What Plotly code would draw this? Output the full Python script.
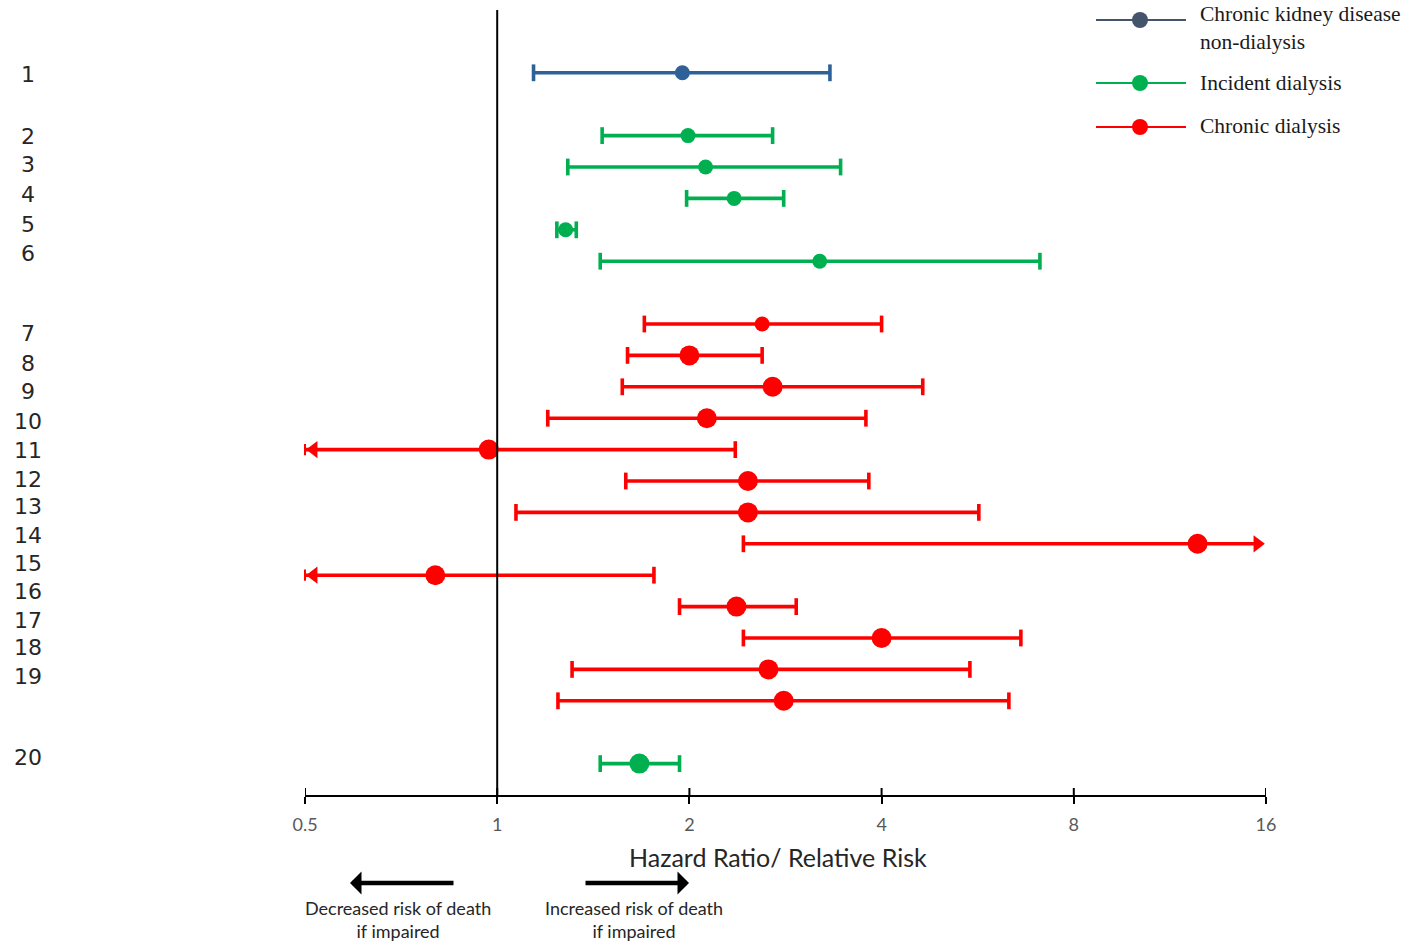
import math
import plotly.graph_objects as go

# ---------------- data ----------------
study_labels = [str(i) for i in range(1, 21)]
groups = ["ckd"] + ["inc"] * 5 + ["chr"] * 13 + ["inc"]
hazard = [1.95, 1.99, 2.12, 2.35, 1.28, 3.20, 2.60, 2.00, 2.70, 2.13,
          0.97, 2.47, 2.47, 12.5, 0.80, 2.37, 4.00, 2.66, 2.81, 1.67]
ci_low = [1.14, 1.46, 1.29, 1.98, 1.24, 1.45, 1.70, 1.60, 1.57, 1.20,
          0.45, 1.59, 1.07, 2.43, 0.45, 1.93, 2.43, 1.31, 1.245, 1.45]
ci_high = [3.32, 2.70, 3.45, 2.81, 1.33, 7.08, 4.00, 2.60, 4.64, 3.78,
           2.36, 3.82, 5.68, 20.0, 1.76, 2.94, 6.61, 5.50, 6.33, 1.93]
tick_values = [0.5, 1, 2, 4, 8, 16]
tick_labels = ["0.5", "1", "2", "4", "8", "16"]
legend_names = {"ckd": "Chronic kidney disease<br>non-dialysis",
                "inc": "Incident dialysis",
                "chr": "Chronic dialysis"}

# ---------------- style ----------------
colors = {"ckd": "#2f6199", "inc": "#00b050", "chr": "#ff0000"}
legend_colors = {"ckd": "#44546a", "inc": "#00b050", "chr": "#ff0000"}
big_marker = [False] * 7 + [True] * 13
gap_before = {2, 7, 20}          # blank row before these studies
label_offsets = [0.06, 0.04, -0.07, -0.11, -0.16, -0.24, 0.31, 0.27, 0.16, 0.11,
                 0.04, -0.04, -0.18, -0.26, -0.36, -0.47, -0.55, -0.69, -0.76, -0.18]

W, H = 1420, 941
L, R, T, B = 305, 1266, 10, 795
XMIN, XMAX = 0.5, 16
ppd = (R - L) / (math.log10(XMAX) - math.log10(XMIN))   # pixels per decade
LW = 3.6
CAP = 12


def px(X):
    return (X - L) / (R - L)


def py(Y):
    return (B - Y) / (B - T)


# row positions
positions = []
gaps = 0
for i, lab in enumerate(study_labels):
    if int(lab) in gap_before:
        gaps += 1
    positions.append(i + gaps)

fig = go.Figure()
ARROW_SIZE = 15
rt = (ARROW_SIZE / 2) * 2 / math.sqrt(3)

for i in range(len(study_labels)):
    c = colors[groups[i]]
    y = positions[i]
    lo_c = max(ci_low[i], XMIN)
    hi_c = min(ci_high[i], XMAX)
    line_hi = hi_c / 10 ** (rt / ppd) if ci_high[i] > XMAX else hi_c
    fig.add_trace(go.Scatter(x=[lo_c, line_hi], y=[y, y], mode="lines",
                             line=dict(color=c, width=LW), cliponaxis=False,
                             hoverinfo="skip"))
    caps = []
    if ci_low[i] >= XMIN:
        caps.append(lo_c)
    if ci_high[i] <= XMAX:
        caps.append(hi_c)
    if caps:
        fig.add_trace(go.Scatter(x=caps, y=[y] * len(caps), mode="markers",
                                 marker=dict(symbol="line-ns", size=CAP,
                                             line=dict(width=LW, color=c)),
                                 cliponaxis=False, hoverinfo="skip"))
    if ci_low[i] < XMIN:
        fig.add_trace(go.Scatter(x=[lo_c * 10 ** (rt / ppd)], y=[y], mode="markers",
                                 marker=dict(symbol="triangle-left", size=ARROW_SIZE,
                                             color=c, line=dict(width=0)),
                                 cliponaxis=False, hoverinfo="skip"))
        fig.add_trace(go.Scatter(x=[lo_c], y=[y], mode="markers",
                                 marker=dict(symbol="line-ns", size=8,
                                             line=dict(width=2, color=c)),
                                 cliponaxis=False, hoverinfo="skip"))
    if ci_high[i] > XMAX:
        fig.add_trace(go.Scatter(x=[hi_c / 10 ** (rt / ppd)], y=[y], mode="markers",
                                 marker=dict(symbol="triangle-right", size=ARROW_SIZE,
                                             color=c, line=dict(width=0)),
                                 cliponaxis=False, hoverinfo="skip"))
    fig.add_trace(go.Scatter(x=[hazard[i]], y=[y], mode="markers",
                             marker=dict(symbol="circle", size=20 if big_marker[i] else 15,
                                         color=c, line=dict(width=0)),
                             cliponaxis=False, name=study_labels[i]))

shapes = []
# reference line at 1
shapes.append(dict(type="line", xref="x", yref="paper", x0=1, x1=1, y0=0, y1=1,
                   line=dict(color="black", width=2), layer="above"))
# upward part of ticks
for tv in tick_values:
    shapes.append(dict(type="line", xref="x", yref="paper", x0=tv, x1=tv,
                       y0=0, y1=py(788), line=dict(color="black", width=2)))

annotations = []
for i, lab in enumerate(study_labels):
    annotations.append(dict(x=px(28), y=positions[i] + label_offsets[i], xref="paper", yref="y",
                            text=lab, showarrow=False, xanchor="center", yanchor="middle",
                            font=dict(family="DejaVu Sans", size=22, color="#262626")))

annotations.append(dict(x=px(778), y=py(857), xref="paper", yref="paper",
                        text="Hazard Ratio/ Relative Risk", showarrow=False,
                        xanchor="center", yanchor="middle",
                        font=dict(family="Lato", size=25, color="#262626")))

# direction arrows
annotations.append(dict(x=px(350), y=py(883), xref="paper", yref="paper", text="",
                        showarrow=True, ax=105, ay=0, arrowhead=1, arrowsize=0.85,
                        arrowwidth=4.5, arrowcolor="black"))
annotations.append(dict(x=px(689), y=py(883), xref="paper", yref="paper", text="",
                        showarrow=True, ax=-105, ay=0, arrowhead=1, arrowsize=0.85,
                        arrowwidth=4.5, arrowcolor="black"))
annotations.append(dict(x=px(398), y=py(919), xref="paper", yref="paper",
                        text="Decreased risk of death<br>if impaired", showarrow=False,
                        xanchor="center", yanchor="middle",
                        font=dict(family="Lato", size=18, color="#262626")))
annotations.append(dict(x=px(634), y=py(919), xref="paper", yref="paper",
                        text="Increased risk of death<br>if impaired", showarrow=False,
                        xanchor="center", yanchor="middle",
                        font=dict(family="Lato", size=18, color="#262626")))

# legend (manual)
legend_rows = [("ckd", 20, 28.5), ("inc", 83, 83), ("chr", 127, 126)]
for key, yl, yt in legend_rows:
    c = legend_colors[key]
    shapes.append(dict(type="line", xref="paper", yref="paper", x0=px(1096), x1=px(1186),
                       y0=py(yl), y1=py(yl), line=dict(color=c, width=2)))
    shapes.append(dict(type="circle", xref="paper", yref="paper",
                       xsizemode="pixel", ysizemode="pixel",
                       xanchor=px(1140), yanchor=py(yl), x0=-8, x1=8, y0=-8, y1=8,
                       fillcolor=c, line=dict(width=0)))
    annotations.append(dict(x=px(1198), y=py(yt), xref="paper", yref="paper",
                            text=legend_names[key], showarrow=False, align="left",
                            xanchor="left", yanchor="middle",
                            font=dict(family="Liberation Serif", size=21.5, color="#1a1a1a")))

fig.update_layout(
    width=W, height=H,
    margin=dict(l=L, r=W - R, t=T, b=H - B),
    plot_bgcolor="white", paper_bgcolor="white",
    showlegend=False,
    shapes=shapes, annotations=annotations,
    xaxis=dict(type="log", range=[math.log10(XMIN), math.log10(XMAX)],
               tickvals=tick_values, ticktext=tick_labels,
               ticks="outside", ticklen=7, tickwidth=2, tickcolor="black",
               showline=True, linecolor="black", linewidth=2,
               showgrid=False, zeroline=False, ticklabelstandoff=5,
               tickfont=dict(family="Lato", size=18, color="#595959")),
    yaxis=dict(range=[23, -2], showgrid=False, zeroline=False,
               showticklabels=False, showline=False, ticks=""),
)

fig.write_html("out.html")
